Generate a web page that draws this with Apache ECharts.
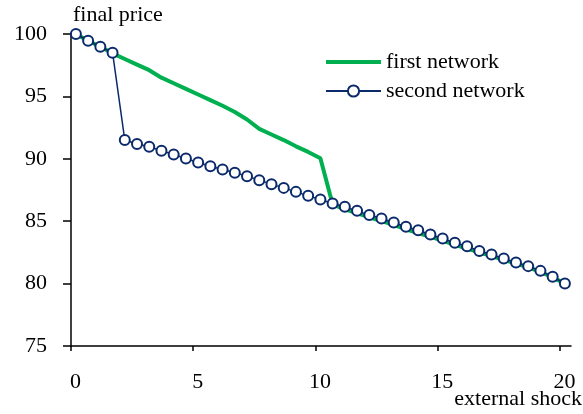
<!DOCTYPE html>
<html>
<head>
<meta charset="utf-8">
<script src="https://cdn.jsdelivr.net/npm/echarts@6/dist/echarts.min.js"></script>
<style>html,body{margin:0;padding:0;background:#fff}#c{width:583px;height:414px}</style>
</head>
<body>
<div id="c"></div>
<script>
const externalShock = [0.2,0.7,1.2,1.7,2.2,2.7,3.2,3.7,4.2,4.7,5.2,5.7,6.2,6.7,7.2,7.7,8.2,8.7,9.2,9.7,10.2,10.7,11.2,11.7,12.2,12.7,13.2,13.7,14.2,14.7,15.2,15.7,16.2,16.7,17.2,17.7,18.2,18.7,19.2,19.7,20.2];
const firstNetwork = [100.0,99.46,98.98,98.45,98.0,97.55,97.1,96.5,96.05,95.6,95.15,94.7,94.25,93.75,93.15,92.4,91.95,91.5,91.0,90.55,90.05,86.35,85.95,85.65,85.3,85.0,84.7,84.35,84.05,83.75,83.45,83.1,82.8,82.5,82.2,81.9,81.6,81.3,80.95,80.5,80.0];
const secondNetwork = [100.0,99.46,98.98,98.5,91.5,91.18,90.96,90.64,90.35,90.03,89.71,89.41,89.15,88.88,88.61,88.29,87.97,87.67,87.35,87.03,86.74,86.42,86.15,85.83,85.49,85.22,84.9,84.55,84.28,83.94,83.62,83.27,83.0,82.62,82.33,82.01,81.69,81.4,81.02,80.54,80.01];
const xTicks = [0,5,10,15,20];
const seriesNames = ['first network','second network'];
const yAxisTitle = 'final price';
const xAxisTitle = 'external shock';

const font = 'Liberation Serif';
const green = '#00B050';
const navy = '#0B2A6B';
const chart = echarts.init(document.getElementById('c'), null, {renderer:'canvas'});
chart.setOption({
  animation: false,
  backgroundColor: '#fff',
  grid: {left: 71, right: 12, top: 34, bottom: 68},
  legend: {
    orient: 'vertical', left: 325, top: 51, padding: 0, itemWidth: 55, itemHeight: 14, itemGap: 7,
    textStyle: {fontFamily: font, fontSize: 22, color: '#000'},
    data: [
      {name: seriesNames[0], icon: 'path://M0,0h55v4h-55z', itemStyle: {color: green}},
      {name: seriesNames[1]}
    ]
  },
  xAxis: {
    type: 'value', min: 0, max: 20.45,
    splitLine: {show: false},
    axisLine: {onZero: false, lineStyle: {color: '#000', width: 1.5}},
    axisTick: {customValues: xTicks, length: 5, inside: false, lineStyle: {color: '#000', width: 1.5}},
    axisLabel: {customValues: xTicks, margin: 25, fontFamily: font, fontSize: 22, color: '#000', padding: [0,0,0,9]}
  },
  yAxis: {
    type: 'value', min: 75, max: 100, interval: 5,
    splitLine: {show: false},
    axisLine: {show: true, onZero: false, lineStyle: {color: '#000', width: 1.5}},
    axisTick: {show: true, length: 8, inside: false, lineStyle: {color: '#000', width: 1.5}},
    axisLabel: {margin: 24, fontFamily: font, fontSize: 22, color: '#000', padding: [7,0,0,0]}
  },
  graphic: [
    {type: 'text', left: 73, top: 4, style: {text: yAxisTitle, font: '22px "Liberation Serif"', fill: '#000'}},
    {type: 'text', right: 1, top: 388, style: {text: xAxisTitle, font: '22px "Liberation Serif"', fill: '#000'}}
  ],
  series: [
    {
      name: seriesNames[0], type: 'line', symbol: 'none', z: 2,
      lineStyle: {color: green, width: 4},
      itemStyle: {color: green},
      data: externalShock.map((x, i) => [x, firstNetwork[i]])
    },
    {
      name: seriesNames[1], type: 'line', symbol: 'circle', symbolSize: 10, z: 3,
      lineStyle: {color: navy, width: 1.5},
      itemStyle: {color: '#fff', borderColor: navy, borderWidth: 2},
      data: externalShock.map((x, i) => [x, secondNetwork[i]])
    }
  ]
});
</script>
</body>
</html>
